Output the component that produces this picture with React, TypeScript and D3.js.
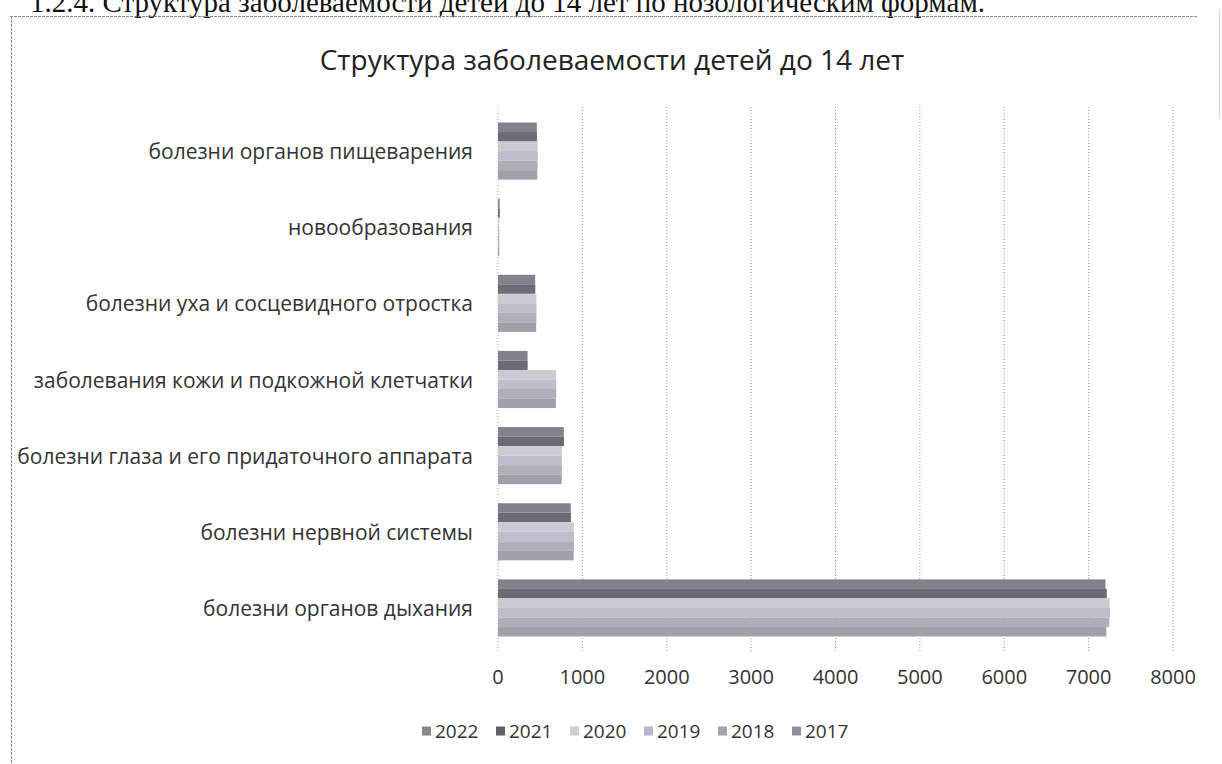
import React from "react";
import * as d3 from "d3";

const categories = [
  "болезни органов пищеварения",
  "новообразования",
  "болезни уха и сосцевидного отростка",
  "заболевания кожи и подкожной клетчатки",
  "болезни глаза и его придаточного аппарата",
  "болезни нервной системы",
  "болезни органов дыхания",
];

const seriesNames = ["2022", "2021", "2020", "2019", "2018", "2017"];

const v2022 = [460, 20, 440, 350, 780, 862, 7200];
const v2021 = [462, 22, 442, 352, 782, 865, 7215];
const v2020 = [470, 15, 455, 688, 758, 898, 7250];
const v2019 = [472, 15, 456, 690, 756, 900, 7255];
const v2018 = [470, 14, 455, 690, 757, 900, 7245];
const v2017 = [466, 15, 452, 686, 755, 896, 7210];
const seriesValues = [v2022, v2021, v2020, v2019, v2018, v2017];

const xTicks = [0, 1000, 2000, 3000, 4000, 5000, 6000, 7000, 8000];

const seriesColors = ["#82828d", "#6b6b75", "#cbcbd2", "#bdbdcb", "#afafba", "#a0a0ac"];
const legendColors = ["#85858f", "#616169", "#d0d0d2", "#b6b6c6", "#a2a2aa", "#90909b"];

const FONT = "'Open Sans', 'DejaVu Sans', sans-serif";

export default function App() {
  const W = 1222;
  const H = 764;
  const x = d3.scaleLinear().domain([0, 8000]).range([498, 1173]);
  const y = d3.scaleBand<string>().domain(categories).range([113, 646]).paddingInner(0.25).paddingOuter(0.125);
  const ySub = d3.scaleBand<string>().domain(seriesNames).range([0, y.bandwidth()]);

  return (
    <svg width={W} height={H} style={{ position: "absolute", left: 0, top: 0, background: "#fff" }}>
      <rect x={0} y={0} width={W} height={H} fill="#fff" />
      {/* header text cut at top */}
      <text x={30} y={12} fontFamily="'Liberation Serif', 'Times New Roman', serif" fontSize={29} fill="#111">
        1.2.4. Структура заболеваемости детей до 14 лет по нозологическим формам.
      </text>
      {/* chart frame */}
      <line x1={10} y1={16.5} x2={1197} y2={16.5} stroke="#8a8a8a" strokeWidth={1} strokeDasharray="3 1" />
      <line x1={11.5} y1={16} x2={11.5} y2={H} stroke="#8a8a8a" strokeWidth={1} strokeDasharray="3 1" />
      <line x1={1219.5} y1={10} x2={1219.5} y2={118} stroke="#d0d0d0" strokeWidth={1} />

      {/* title */}
      <text x={612} y={70} textAnchor="middle" fontFamily={FONT} fontSize={28} fill="#222">
        Структура заболеваемости детей до 14 лет
      </text>

      {/* gridlines */}
      {xTicks.slice(1).map((t) => (
        <line key={t} x1={x(t)} x2={x(t)} y1={107} y2={652} stroke="#9a9a9a" strokeWidth={1} strokeDasharray="1 2" />
      ))}
      <line x1={x(0)} x2={x(0)} y1={107} y2={652} stroke="#aaa" strokeWidth={1} strokeDasharray="1 2" />

      {/* bars */}
      {categories.map((c, ci) => (
        <g key={c} transform={`translate(0,${y(c)})`}>
          {seriesNames.map((s, si) => (
            <rect
              key={s}
              x={x(0)}
              y={ySub(s)}
              width={x(seriesValues[si][ci]) - x(0)}
              height={ySub.bandwidth()}
              fill={seriesColors[si]}
            />
          ))}
        </g>
      ))}

      {/* category labels */}
      {categories.map((c) => (
        <text
          key={c}
          x={473}
          y={(y(c) as number) + y.bandwidth() / 2}
          textAnchor="end"
          dominantBaseline="central"
          fontFamily={FONT}
          fontSize={21}
          fill="#333"
        >
          {c}
        </text>
      ))}

      {/* x tick labels */}
      {xTicks.map((t) => (
        <text key={t} x={x(t)} y={676} textAnchor="middle" dominantBaseline="central" fontFamily={FONT} fontSize={20} fill="#333">
          {t}
        </text>
      ))}

      {/* legend */}
      {seriesNames.map((s, i) => {
        const lx = 422 + i * 74;
        return (
          <g key={s} transform={`translate(${lx},731)`}>
            <rect x={0} y={-4.5} width={9} height={9} fill={legendColors[i]} />
            <text x={13} y={0} dominantBaseline="central" fontFamily={FONT} fontSize={19} fill="#333">
              {s}
            </text>
          </g>
        );
      })}
    </svg>
  );
}
